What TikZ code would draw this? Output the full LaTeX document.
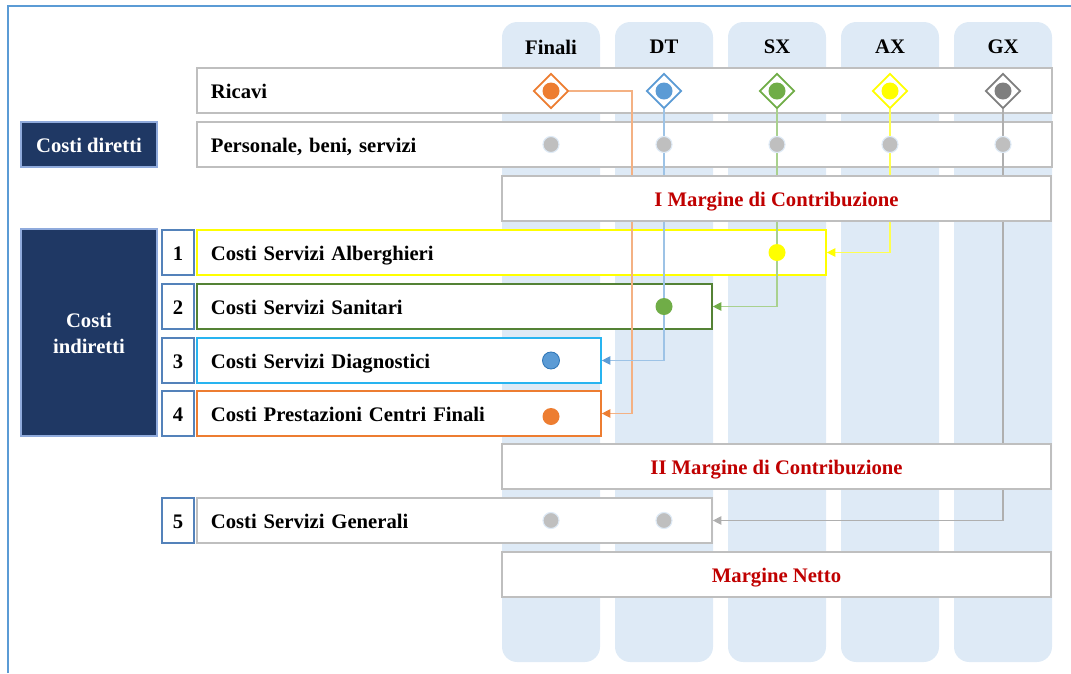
\documentclass[tikz,border=0pt]{standalone}
\usepackage{fontspec}
\setmainfont{Liberation Serif}
\usetikzlibrary{arrows.meta,shapes.geometric}

\pgfdeclarelayer{background}
\pgfsetlayers{background,main}

\def\pxu{0.025cm}
\def\rowstrut{\rule[-3.7pt]{0pt}{18.8pt}}
\def\centri{{551/F/Finali}, {664/D/DT}, {777/S/SX}, {890/A/AX}, {1003/G/GX}}
\def\ricavi{{551/F/cfin}, {664/D/cdt}, {777/S/csx}, {890/A/cax}, {1003/G/cgx}}

\definecolor{colfill}{RGB}{222,234,246}
\definecolor{boxedge}{RGB}{191,191,191}
\definecolor{navy}{RGB}{31,56,100}
\definecolor{navyedge}{RGB}{143,170,220}
\definecolor{numedge}{RGB}{84,130,186}
\definecolor{framecol}{RGB}{91,155,213}
\definecolor{redtext}{RGB}{192,0,0}
\definecolor{dotgrey}{RGB}{191,191,191}
\definecolor{cfin}{RGB}{237,125,49}
\definecolor{cdt}{RGB}{91,155,213}
\definecolor{csx}{RGB}{112,173,71}
\definecolor{cax}{RGB}{255,255,0}
\definecolor{cgx}{RGB}{127,127,127}
\definecolor{greenedge}{RGB}{84,130,53}
\definecolor{cyanedge}{RGB}{40,180,240}
\definecolor{bluedot}{RGB}{46,117,182}
\definecolor{linefin}{RGB}{244,177,131}
\definecolor{linedt}{RGB}{157,195,230}
\definecolor{linesx}{RGB}{169,209,142}
\definecolor{lineax}{RGB}{255,255,80}
\definecolor{linegx}{RGB}{175,175,175}

\tikzset{
  every node/.style={font=\fontsize{14.7}{17.8}\selectfont\bfseries},
  colbar/.style={fill=colfill, rounded corners=0.38cm},
  colhead/.style={inner sep=0pt},
  box/.style={draw=boxedge, fill=white, line width=1.3pt, minimum height=45*\pxu, inner sep=0pt,
              execute at begin node=\rowstrut},
  rowbox/.style={box, anchor=west, align=left, inner xsep=0.35cm, text width=#1*\pxu-0.7cm},
  margin/.style={box, text=redtext, minimum width=549*\pxu},
  navybox/.style={draw=navyedge, fill=navy, text=white, line width=1.2pt, minimum width=136*\pxu, align=center},
  numbox/.style={draw=numedge, fill=white, line width=1.3pt, minimum width=32*\pxu, minimum height=45*\pxu, inner sep=0pt,
                 execute at begin node=\rowstrut},
  rombo/.style={diamond, draw=#1, fill=white, line width=1.2pt, minimum width=35*\pxu, minimum height=35*\pxu, inner sep=0pt},
  dot/.style={circle, fill=#1, inner sep=0pt, minimum size=17*\pxu},
  greydot/.style={circle, fill=dotgrey, draw=colfill, line width=0.8pt, inner sep=0pt, minimum size=16*\pxu},
  link/.style 2 args={draw=#1, line width=0.75pt, -{Triangle[length=6pt,width=6pt,color=#2]}},
  frameline/.style={draw=framecol, line width=1.1pt}
}

\begin{document}
\begin{tikzpicture}[x=\pxu, y=-\pxu]
  \useasboundingbox (0,0) rectangle (1071,673);
  \draw[frameline] (8,673) -- (8,6) -- (1071,6);

  % the five columns
  \begin{pgfonlayer}{background}
    \foreach \x/\k/\name in \centri
      \fill[colbar] (\x-49,22) rectangle (\x+49,662);
  \end{pgfonlayer}
  \foreach \x/\k/\name in \centri
    \node[colhead] (h\k) at (\x,47) {\name};

  % direct costs
  \node[rowbox=855] (ric) at (196,90.5) {Ricavi};
  \node[rowbox=855] (pers) at (196,144.5) {Personale, beni, servizi};
  \node[navybox, minimum height=45*\pxu] (dir) at (89,144.5) {\rowstrut Costi diretti};

  % indirect costs
  \node[navybox, minimum height=207*\pxu] (ind) at (89,332.5) {\rule{0pt}{11.5pt}Costi\\indiretti};
  \foreach \n/\y/\w/\c/\t in {1/252.5/629/cax/Costi Servizi Alberghieri,
                               2/306.5/515/greenedge/Costi Servizi Sanitari,
                               3/360.5/404/cyanedge/Costi Servizi Diagnostici,
                               4/413.5/404/cfin/Costi Prestazioni Centri Finali,
                               5/520.5/515/boxedge/Costi Servizi Generali} {
    \node[numbox] (n\n) at (178,\y) {\n};
    \node[rowbox=\w, draw=\c] (r\n) at (196,\y) {\t};
  }

  % revenues
  \foreach \x/\k/\c in \ricavi {
    \node[rombo=\c] (d\k) at (\x,91) {};
    \node[dot=\c] () at (\x,91) {};
  }

  % the allocations
  \coordinate (gomito) at (632,413.5);
  \path[link={linefin}{cfin}] (dF.east) -| (gomito) -- (r4.east);
  \path[link={linedt}{cdt}] (dD.south) |- (r3.east);
  \path[link={linesx}{csx}] (dS.south) |- (r2.east);
  \path[link={lineax}{cax}] (dA.south) |- (r1.east);
  \path[link={linegx}{linegx}] (dG.south) |- (r5.east);

  % the cost dots
  \foreach \x/\k/\name in \centri
    \node[greydot] (g\k) at (\x,144.5) {};
  \node[dot=cax] (p1) at (777,252.5) {};
  \node[dot=csx] (p2) at (664,306.5) {};
  \node[dot=cdt, draw=bluedot, line width=0.6pt] (p3) at (551,360.5) {};
  \node[dot=cfin] (p4) at (551,416.5) {};
  \node[greydot] (q1) at (551,520.5) {};
  \node[greydot] (q2) at (664,520.5) {};

  % margins
  \node[margin] (m1) at (776.5,198.5) {I Margine di Contribuzione};
  \node[margin] (m2) at (776.5,466.5) {II Margine di Contribuzione};
  \node[margin] (m3) at (776.5,574.5) {Margine Netto};

\end{tikzpicture}
\end{document}
